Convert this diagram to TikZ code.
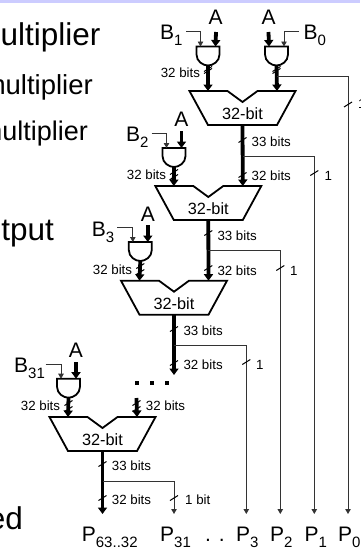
\documentclass[tikz,border=0pt]{standalone}
\usepackage{fontspec}
\setmainfont{Liberation Sans}
\usetikzlibrary{arrows.meta,calc}
\definecolor{band}{HTML}{CCCCFF}
\definecolor{wire}{HTML}{333333}
\newcommand{\fsz}[1]{\fontsize{#1}{#1}\selectfont}
\newcommand{\lsub}[2]{#1\raisebox{-6pt}{\fsz{15}#2}}
\tikzset{
  x=1pt,y=-1pt,
  thin wire/.style={draw=wire,line width=0.9pt,-{Triangle[width=5.5pt,length=5pt]}},
  thick wire/.style={draw=black,line width=3.8pt,-{Triangle[width=9pt,length=6.5pt,fill=black]}},
  block/.style={draw=black,line width=1.8pt,line join=miter,fill=white},
  tickmark/.style={draw=black,line width=1pt},
  big/.style={font=\fsz{21},inner sep=0pt,anchor=base west},
  bits/.style={font=\fsz{13.3},inner sep=0pt,anchor=base west},
  addlabel/.style={font=\fsz{16.3},inner sep=0pt,anchor=center},
  prose/.style={inner sep=0pt,anchor=base east}
}
% AND gate: #1 name, #2 centre x, #3 top y
\newcommand{\gatepic}[3]{
  \draw[block] (#2-11.5,#3) -- (#2+11.5,#3) -- (#2+11.5,#3+8)
    .. controls (#2+11.5,#3+15) and (#2+5,#3+19) .. (#2,#3+19)
    .. controls (#2-5,#3+19) and (#2-11.5,#3+15) .. (#2-11.5,#3+8) -- cycle;
  \coordinate (#1-l) at (#2-7.5,#3);
  \coordinate (#1-r) at (#2+7.5,#3);
  \coordinate (#1-o) at (#2,#3+19);
}
% adder: #1 name, #2 centre x, #3 top y
\newcommand{\adderpic}[3]{
  \draw[block] (#2-53,#3) -- (#2-15,#3) -- (#2,#3+11) -- (#2+15,#3) -- (#2+53,#3)
    -- (#2+34.5,#3+34) -- (#2-34.5,#3+34) -- cycle;
  \coordinate (#1-l) at (#2-34.5,#3);
  \coordinate (#1-r) at (#2+34.5,#3);
  \coordinate (#1-o) at (#2,#3+34);
  \node[addlabel] (#1-t) at (#2,#3+22.5) {32-bit};
}
\newcommand{\tickat}[1]{\draw[tickmark] ($(#1)+(-4,2.5)$) -- ($(#1)+(4,-2.5)$);}
\begin{document}
\begin{tikzpicture}
\useasboundingbox (0,0) rectangle (360,549);
\clip (0,0) rectangle (360,549);
\fill[band] (0,0) rectangle (360,3);

% left-hand text, cut off at the page edge
\node[prose,font=\fsz{31.5}] (t1) at (100.5,45) {ultiplier};
\node[prose,font=\fsz{27.5}] (t2) at (93,94) {multiplier};
\node[prose,font=\fsz{27}] (t3) at (88,140) {multiplier};
\node[prose,font=\fsz{31.5}] (t4) at (54,240) {tput};
\node[prose,font=\fsz{31.5}] (t5) at (23,529) {ed};

% gates and adders
\gatepic{g1}{208}{46.5}
\gatepic{g0}{276.5}{46.5}
\gatepic{g2}{174}{148}
\gatepic{g3}{140.3}{242}
\gatepic{g31}{68.5}{378.7}
\adderpic{a1}{242.5}{91}
\adderpic{a2}{208.3}{186}
\adderpic{a3}{174}{280.7}
\adderpic{a4}{102.5}{417}

% named wire ends
\coordinate (P63) at (102.5,514);
\coordinate (P31) at (174,514);
\coordinate (P3) at (246.3,514);
\coordinate (P2) at (280.3,514);
\coordinate (P1) at (314.3,514);
\coordinate (P0) at (348,514);
\coordinate (cont) at (136.5,398);
\coordinate (stop) at (174,375);
\coordinate (br0) at (276.5,76);
\coordinate (br1) at (242.5,156);
\coordinate (br2) at (208.3,250.7);
\coordinate (br3) at (174,345.7);
\coordinate (br4) at (102.5,481.7);
\coordinate (A1s) at (216,32);
\coordinate (A0s) at (268.5,32);
\coordinate (A2s) at (181.5,131);
\coordinate (A3s) at (147.8,225);
\coordinate (A31s) at (76,362);
\coordinate (B1s) at (186,31);
\coordinate (B0s) at (299,31);
\coordinate (B2s) at (151.7,133);
\coordinate (B3s) at (117.3,227.3);
\coordinate (B31s) at (45.7,364);

% inputs
\draw[thick wire] (A1s) -- (g1-r);
\draw[thick wire] (A0s) -- (g0-l);
\draw[thick wire] (A2s) -- (g2-r);
\draw[thick wire] (A3s) -- (g3-r);
\draw[thick wire] (A31s) -- (g31-r);
\draw[thin wire] (B1s) -| (g1-l);
\draw[thin wire] (B0s) -| (g0-r);
\draw[thin wire] (B2s) -| (g2-l);
\draw[thin wire] (B3s) -| (g3-l);
\draw[thin wire] (B31s) -| (g31-l);

% thick data path
\draw[thick wire] (g1-o) -- (a1-l);
\draw[thick wire] (g0-o) -- (a1-r);
\draw[thick wire] (g2-o) -- (a2-l);
\draw[thick wire] (a1-o) -- (a2-r);
\draw[thick wire] (g3-o) -- (a3-l);
\draw[thick wire] (a2-o) -- (a3-r);
\draw[thick wire] (g31-o) -- (a4-l);
\draw[thick wire] (cont) -- (a4-r);
\draw[thick wire] (a3-o) -- (stop);
\draw[thick wire] (a4-o) -- (P63);

% single-bit outputs
\draw[thin wire] (br0) -| (P0);
\draw[thin wire] (br1) -| (P1);
\draw[thin wire] (br2) -| (P2);
\draw[thin wire] (br3) -| (P3);
\draw[thin wire] (br4) -| (P31);

% slash marks
\foreach \c in {{208,71},{276.5,71},{174,172},{174,177},{140.3,266},{140.3,272},{68.5,403},{68.5,409},{136.5,403},{136.5,409},
  {242.5,140},{242.5,175},{208.3,233},{208.3,268},{174,329},{174,363},{102.5,464},{102.5,498},
  {348,104.5},{314.3,173},{280.3,268},{246.3,362},{174,498},{208,69},{276.5,69}}
  {\tickat{\c}}

% dots
\node[fill=black,inner sep=0pt,minimum size=3.4pt] (d1) at (137,383) {};
\node[fill=black,inner sep=0pt,minimum size=3.4pt] (d2) at (152,383) {};
\node[fill=black,inner sep=0pt,minimum size=3.4pt] (d3) at (167,383) {};

% A labels
\node[big,anchor=base] (la1) at (215.7,24.3) {A};
\node[big,anchor=base] (la0) at (268.7,24.3) {A};
\node[big,anchor=base] (la2) at (181.3,126) {A};
\node[big,anchor=base] (la3) at (147.8,221) {A};
\node[big,anchor=base] (la31) at (75.8,357) {A};

% B labels
\node[big] (lb1) at (160,39) {\lsub{B}{1}};
\node[big] (lb0) at (303.5,39) {\lsub{B}{0}};
\node[big] (lb2) at (126,141.7) {\lsub{B}{2}};
\node[big] (lb3) at (91.7,236) {\lsub{B}{3}};
\node[big] (lb31) at (14,372.5) {\lsub{B}{31}};

% width labels
\node[bits] (w1) at (160.6,77.5) {32 bits};
\node[bits] (w2) at (126.7,179.5) {32 bits};
\node[bits] (w3) at (92.7,274.5) {32 bits};
\node[bits] (w4) at (20.7,410.5) {32 bits};
\node[bits] (w5) at (145.7,410.5) {32 bits};
\node[bits] (w6) at (251.5,146) {33 bits};
\node[bits] (w7) at (251.5,180) {32 bits};
\node[bits] (w8) at (217.3,240) {33 bits};
\node[bits] (w9) at (217.3,275) {32 bits};
\node[bits] (w10) at (183.3,335.5) {33 bits};
\node[bits] (w11) at (183.3,369.5) {32 bits};
\node[bits] (w12) at (111.7,470.5) {33 bits};
\node[bits] (w13) at (111.7,504.5) {32 bits};
\node[bits] (o0) at (358,108.5) {1};
\node[bits] (o1) at (324.5,180) {1};
\node[bits] (o2) at (290,275) {1};
\node[bits] (o3) at (256,369.5) {1};
\node[bits] (o4) at (185,504.5) {1 bit};

% output labels
\node[big] (p63) at (81.7,541.7) {\lsub{P}{63..32}};
\node[big] (p31) at (160,541.7) {\lsub{P}{31}};
\node[big] (pd) at (205,541.7) {. .};
\node[big] (p3) at (236,541.7) {\lsub{P}{3}};
\node[big] (p2) at (270,541.7) {\lsub{P}{2}};
\node[big] (p1) at (304.5,541.7) {\lsub{P}{1}};
\node[big] (p0) at (338,541.7) {\lsub{P}{0}};
\end{tikzpicture}
\end{document}
